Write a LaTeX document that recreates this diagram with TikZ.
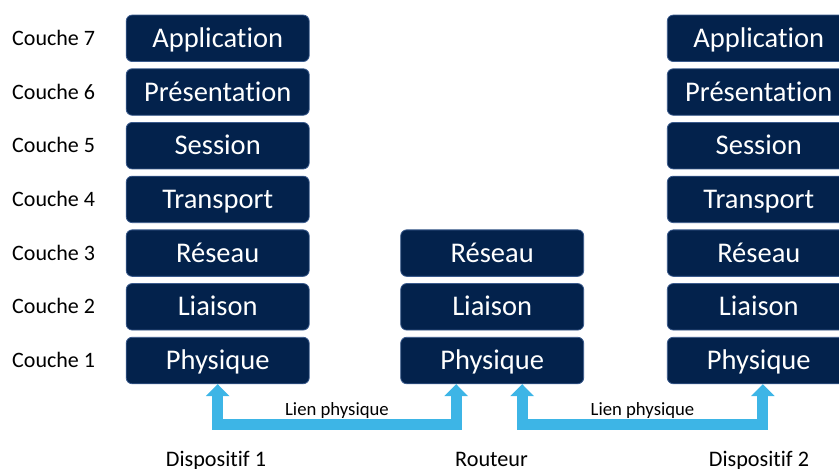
\documentclass[tikz,border=0pt]{standalone}
\usepackage{fontspec}
\setmainfont{Carlito}[Ligatures = NoCommon]
\usetikzlibrary{arrows.meta}
\definecolor{marine}{HTML}{03224C}
\definecolor{marinebord}{HTML}{3A5A8C}
\definecolor{cyanlien}{HTML}{3DB5E6}
\begin{document}
\begin{tikzpicture}[x = 1pt, y = -1pt, line join = round,
	couche/.style = {draw = marinebord, line width = .8pt, fill = marine, rounded corners = 6pt,
		minimum width = 183pt, minimum height = 46.5pt, inner sep = 0pt, text = white,
		text height = 18pt, text depth = 0pt, font = \fontsize{28.5}{31}\selectfont},
	niveau/.style = {anchor = west, inner sep = 0pt, text height = 14pt, text depth = 0pt,
		font = \fontsize{22}{24}\selectfont},
	lien/.style = {draw = cyanlien, line width = 11pt, line join = miter,
		{Triangle[width = 23pt, length = 12pt]}-{Triangle[width = 23pt, length = 12pt]}},
	textelien/.style = {anchor = base, inner sep = 0pt, yshift = 9.5pt, font = \fontsize{18.7}{20}\selectfont},
	appareil/.style = {anchor = base, inner sep = 0pt, font = \fontsize{22.2}{24}\selectfont}]
	\useasboundingbox (0,0) rectangle (839,469);
	\clip (0,0) rectangle (839,469);
	% les deux piles completes et les numeros de couche
	\foreach \n/\nom in {7/Application,6/Présentation,5/Session,4/Transport,3/Réseau,2/Liaison,1/Physique}{
		\node[couche] (D1-\n) at (217.7, {38.3+53.7*(7-\n)}) {\nom};
		\node[couche] (D2-\n) at (758.8, {38.3+53.7*(7-\n)}) {\nom};
		\node[niveau] (C\n) at (12, {38.3+53.7*(7-\n)}) {Couche \n};
	}
	% le routeur
	\foreach \n/\nom in {3/Réseau,2/Liaison,1/Physique}
	\node[couche] (R-\n) at (492.2, {38.3+53.7*(7-\n)}) {\nom};
	% liens physiques
	\path
	(D1-1.south) ++(0,40.5) coordinate (g1)
	(R-1.south) ++(-36,40.5) coordinate (d1)
	(R-1.south) ++(30,40.5) coordinate (g2)
	(D2-1.south) ++(4,40.5) coordinate (d2)
	;
	\draw[lien]
	(D1-1.south) -- (g1) -- node[textelien] {Lien physique} (d1) -- (d1 |- R-1.south)
	;
	\draw[lien]
	([xshift = 30pt]R-1.south) -- (g2) -- node[textelien] {Lien physique} (d2) -- (d2 |- D2-1.south)
	;
	% noms des appareils
	\node[appareil] (A1) at (216, 466.5) {Dispositif 1};
	\node[appareil] (A2) at (491.5, 466.5) {Routeur};
	\node[appareil] (A3) at (759, 466.5) {Dispositif 2};
\end{tikzpicture}
\end{document}
